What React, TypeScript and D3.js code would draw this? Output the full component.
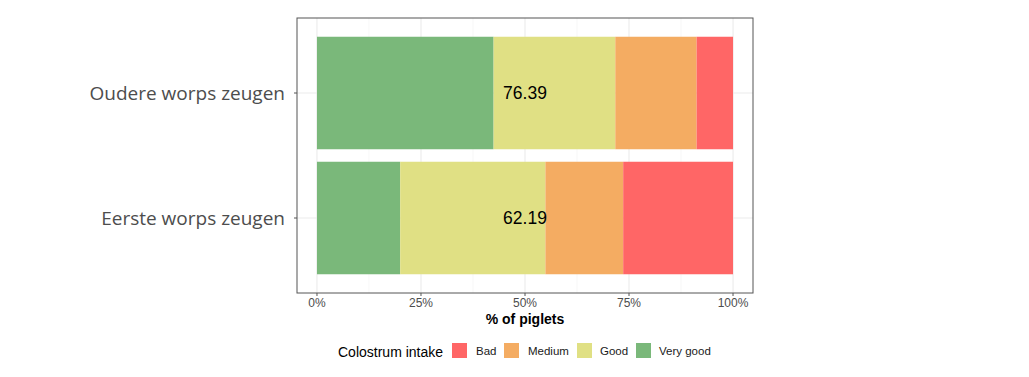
import React from "react";
import * as d3 from "d3";

const categories = ["Oudere worps zeugen", "Eerste worps zeugen"];
const levels = ["Very good", "Good", "Medium", "Bad"];
const veryGood = [42.45, 20.0];
const good = [29.25, 34.9];
const medium = [19.55, 18.7];
const bad = [8.75, 26.4];
const meanLabels = ["76.39", "62.19"];
const xTicks = [0, 0.25, 0.5, 0.75, 1];
const colors: Record<string, string> = {
  Bad: "#FF6666",
  Medium: "#F4AC62",
  Good: "#E0E084",
  "Very good": "#7AB87A",
};

export default function App() {
  const W = 1029, H = 377;
  const panel = { left: 297, top: 18, right: 753, bottom: 293 };
  const x = d3.scaleLinear().domain([-0.048, 1.048]).range([panel.left, panel.right]);
  const y = d3.scaleBand().domain(categories).range([panel.top, panel.bottom]).paddingInner(0.1).paddingOuter(0.15);
  const series = [veryGood, good, medium, bad];
  const rows = categories.map((c, i) => {
    const vals = series.map((s) => s[i]);
    const tot = d3.sum(vals);
    let acc = 0;
    return levels.map((lv, j) => {
      const x0 = acc / tot;
      acc += vals[j];
      return { cat: c, level: lv, x0, x1: acc / tot };
    });
  });
  const minor = [0.125, 0.375, 0.625, 0.875];
  const font = "Liberation Sans, Arial, sans-serif";
  const legendItems = [
    { k: "Bad", kx: 452, lx: 476 },
    { k: "Medium", kx: 504, lx: 528 },
    { k: "Good", kx: 577, lx: 600 },
    { k: "Very good", kx: 636, lx: 659 },
  ];
  const cy = (c: string) => y(c)! + y.bandwidth() / 2;
  return (
    <svg width={W} height={H} style={{ position: "absolute", left: 0, top: 0 }}>
      <rect width={W} height={H} fill="#fff" />
      {minor.map((t) => (
        <line key={"m" + t} x1={x(t)} x2={x(t)} y1={panel.top} y2={panel.bottom} stroke="#f2f2f2" strokeWidth={0.6} />
      ))}
      {xTicks.map((t) => (
        <line key={"g" + t} x1={x(t)} x2={x(t)} y1={panel.top} y2={panel.bottom} stroke="#ebebeb" strokeWidth={1.1} />
      ))}
      {categories.map((c) => (
        <line key={"h" + c} x1={panel.left} x2={panel.right} y1={cy(c)} y2={cy(c)} stroke="#ebebeb" strokeWidth={1.1} />
      ))}
      {rows.map((r) =>
        r.map((s) => (
          <rect key={s.cat + s.level} x={x(s.x0)} width={x(s.x1) - x(s.x0)} y={y(s.cat)} height={y.bandwidth()} fill={colors[s.level]} />
        ))
      )}
      {categories.map((c, i) => (
        <text key={"v" + c} x={x(0.5)} y={cy(c)} dy="0.35em" textAnchor="middle" fontFamily={font} fontSize={17.5} fill="#000">
          {meanLabels[i]}
        </text>
      ))}
      <rect x={panel.left} y={panel.top} width={panel.right - panel.left} height={panel.bottom - panel.top} fill="none" stroke="#555" strokeWidth={1} />
      {xTicks.map((t) => (
        <g key={"t" + t}>
          <line x1={x(t)} x2={x(t)} y1={panel.bottom} y2={panel.bottom + 3} stroke="#555" />
          <text x={x(t)} y={panel.bottom + 14} textAnchor="middle" fontFamily={font} fontSize={12} fill="#4d4d4d">
            {d3.format(".0%")(t)}
          </text>
        </g>
      ))}
      {categories.map((c) => (
        <g key={"y" + c}>
          <line x1={panel.left - 3} x2={panel.left} y1={cy(c)} y2={cy(c)} stroke="#555" />
          <text x={285} y={cy(c)} dy="0.35em" textAnchor="end" fontFamily="Open Sans, sans-serif" fontSize={19} fill="#4d4d4d">
            {c}
          </text>
        </g>
      ))}
      <text x={x(0.5)} y={324} textAnchor="middle" fontFamily={font} fontSize={14} fontWeight="bold" fill="#000">
        % of piglets
      </text>
      <text x={338} y={357} fontFamily={font} fontSize={14} fill="#000">
        Colostrum intake
      </text>
      {legendItems.map((it) => (
        <g key={it.k}>
          <rect x={it.kx} y={343} width={15} height={15} fill={colors[it.k]} />
          <text x={it.lx} y={355} fontFamily={font} fontSize={11.5} fill="#1a1a1a">
            {it.k}
          </text>
        </g>
      ))}
    </svg>
  );
}
